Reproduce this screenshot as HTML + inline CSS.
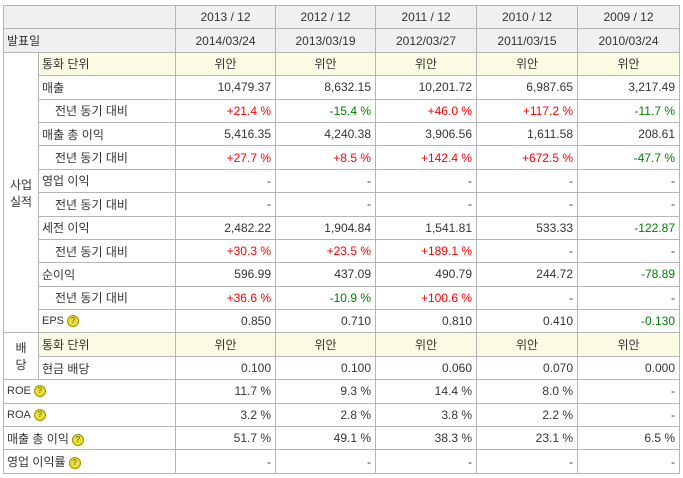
<!DOCTYPE html>
<html><head><meta charset="utf-8"><style>
body{margin:0;background:#fff;font-family:"Liberation Sans","Noto Sans CJK KR","NanumGothic",sans-serif;font-size:12px;color:#333;}
table{position:absolute;left:3px;top:5px;border-collapse:collapse;table-layout:fixed;width:676px;}
td{border:1px solid #b5b5b5;height:22.4px;padding:0 4px;white-space:nowrap;overflow:hidden;text-align:right;}
td.l{text-align:left;padding-left:3px}
td.i{text-align:left;padding-left:16px}
td.c{text-align:center}
.h td{background:#f0f0f0;text-align:center}
.h td.l{text-align:left}
.y td{background:#fbfbe3}
.y td.g{background:#fff}
.r{color:#f00}.gr{color:#008000}
.q{display:inline-block;width:10px;height:10px;border-radius:50%;background:#e8e030;border:1px solid #a09000;font-size:8px;line-height:10px;text-align:center;color:#554;vertical-align:middle;margin-left:3px}
.s{font-size:11px}
</style></head><body>
<table>
<colgroup><col style="width:35px"><col style="width:137px"><col style="width:100px"><col style="width:100px"><col style="width:101px"><col style="width:101px"><col style="width:102px"></colgroup>
<tr class="h"><td colspan="2"></td><td>2013 / 12</td><td>2012 / 12</td><td>2011 / 12</td><td>2010 / 12</td><td>2009 / 12</td></tr>
<tr class="h"><td colspan="2" class="l">발표일</td><td>2014/03/24</td><td>2013/03/19</td><td>2012/03/27</td><td>2011/03/15</td><td>2010/03/24</td></tr>
<tr class="y"><td rowspan="12" class="c g">사업<br>실적</td><td class="l">통화 단위</td><td class="c">위안</td><td class="c">위안</td><td class="c">위안</td><td class="c">위안</td><td class="c">위안</td></tr>
<tr><td class="l">매출</td><td>10,479.37</td><td>8,632.15</td><td>10,201.72</td><td>6,987.65</td><td>3,217.49</td></tr>
<tr><td class="i">전년 동기 대비</td><td class="r">+21.4 %</td><td class="gr">-15.4 %</td><td class="r">+46.0 %</td><td class="r">+117.2 %</td><td class="gr">-11.7 %</td></tr>
<tr><td class="l">매출 총 이익</td><td>5,416.35</td><td>4,240.38</td><td>3,906.56</td><td>1,611.58</td><td>208.61</td></tr>
<tr><td class="i">전년 동기 대비</td><td class="r">+27.7 %</td><td class="r">+8.5 %</td><td class="r">+142.4 %</td><td class="r">+672.5 %</td><td class="gr">-47.7 %</td></tr>
<tr><td class="l">영업 이익</td><td>-</td><td>-</td><td>-</td><td>-</td><td>-</td></tr>
<tr><td class="i">전년 동기 대비</td><td>-</td><td>-</td><td>-</td><td>-</td><td>-</td></tr>
<tr><td class="l">세전 이익</td><td>2,482.22</td><td>1,904.84</td><td>1,541.81</td><td>533.33</td><td class="gr">-122.87</td></tr>
<tr><td class="i">전년 동기 대비</td><td class="r">+30.3 %</td><td class="r">+23.5 %</td><td class="r">+189.1 %</td><td>-</td><td>-</td></tr>
<tr><td class="l">순이익</td><td>596.99</td><td>437.09</td><td>490.79</td><td>244.72</td><td class="gr">-78.89</td></tr>
<tr><td class="i">전년 동기 대비</td><td class="r">+36.6 %</td><td class="gr">-10.9 %</td><td class="r">+100.6 %</td><td>-</td><td>-</td></tr>
<tr><td class="l s">EPS<span class="q">?</span></td><td>0.850</td><td>0.710</td><td>0.810</td><td>0.410</td><td class="gr">-0.130</td></tr>
<tr class="y"><td rowspan="2" class="c g">배<br>당</td><td class="l">통화 단위</td><td class="c">위안</td><td class="c">위안</td><td class="c">위안</td><td class="c">위안</td><td class="c">위안</td></tr>
<tr><td class="l">현금 배당</td><td>0.100</td><td>0.100</td><td>0.060</td><td>0.070</td><td>0.000</td></tr>
<tr><td colspan="2" class="l s">ROE<span class="q">?</span></td><td>11.7 %</td><td>9.3 %</td><td>14.4 %</td><td>8.0 %</td><td>-</td></tr>
<tr><td colspan="2" class="l s">ROA<span class="q">?</span></td><td>3.2 %</td><td>2.8 %</td><td>3.8 %</td><td>2.2 %</td><td>-</td></tr>
<tr><td colspan="2" class="l">매출 총 이익<span class="q">?</span></td><td>51.7 %</td><td>49.1 %</td><td>38.3 %</td><td>23.1 %</td><td>6.5 %</td></tr>
<tr><td colspan="2" class="l">영업 이익률<span class="q">?</span></td><td>-</td><td>-</td><td>-</td><td>-</td><td>-</td></tr>
</table>
</body></html>
